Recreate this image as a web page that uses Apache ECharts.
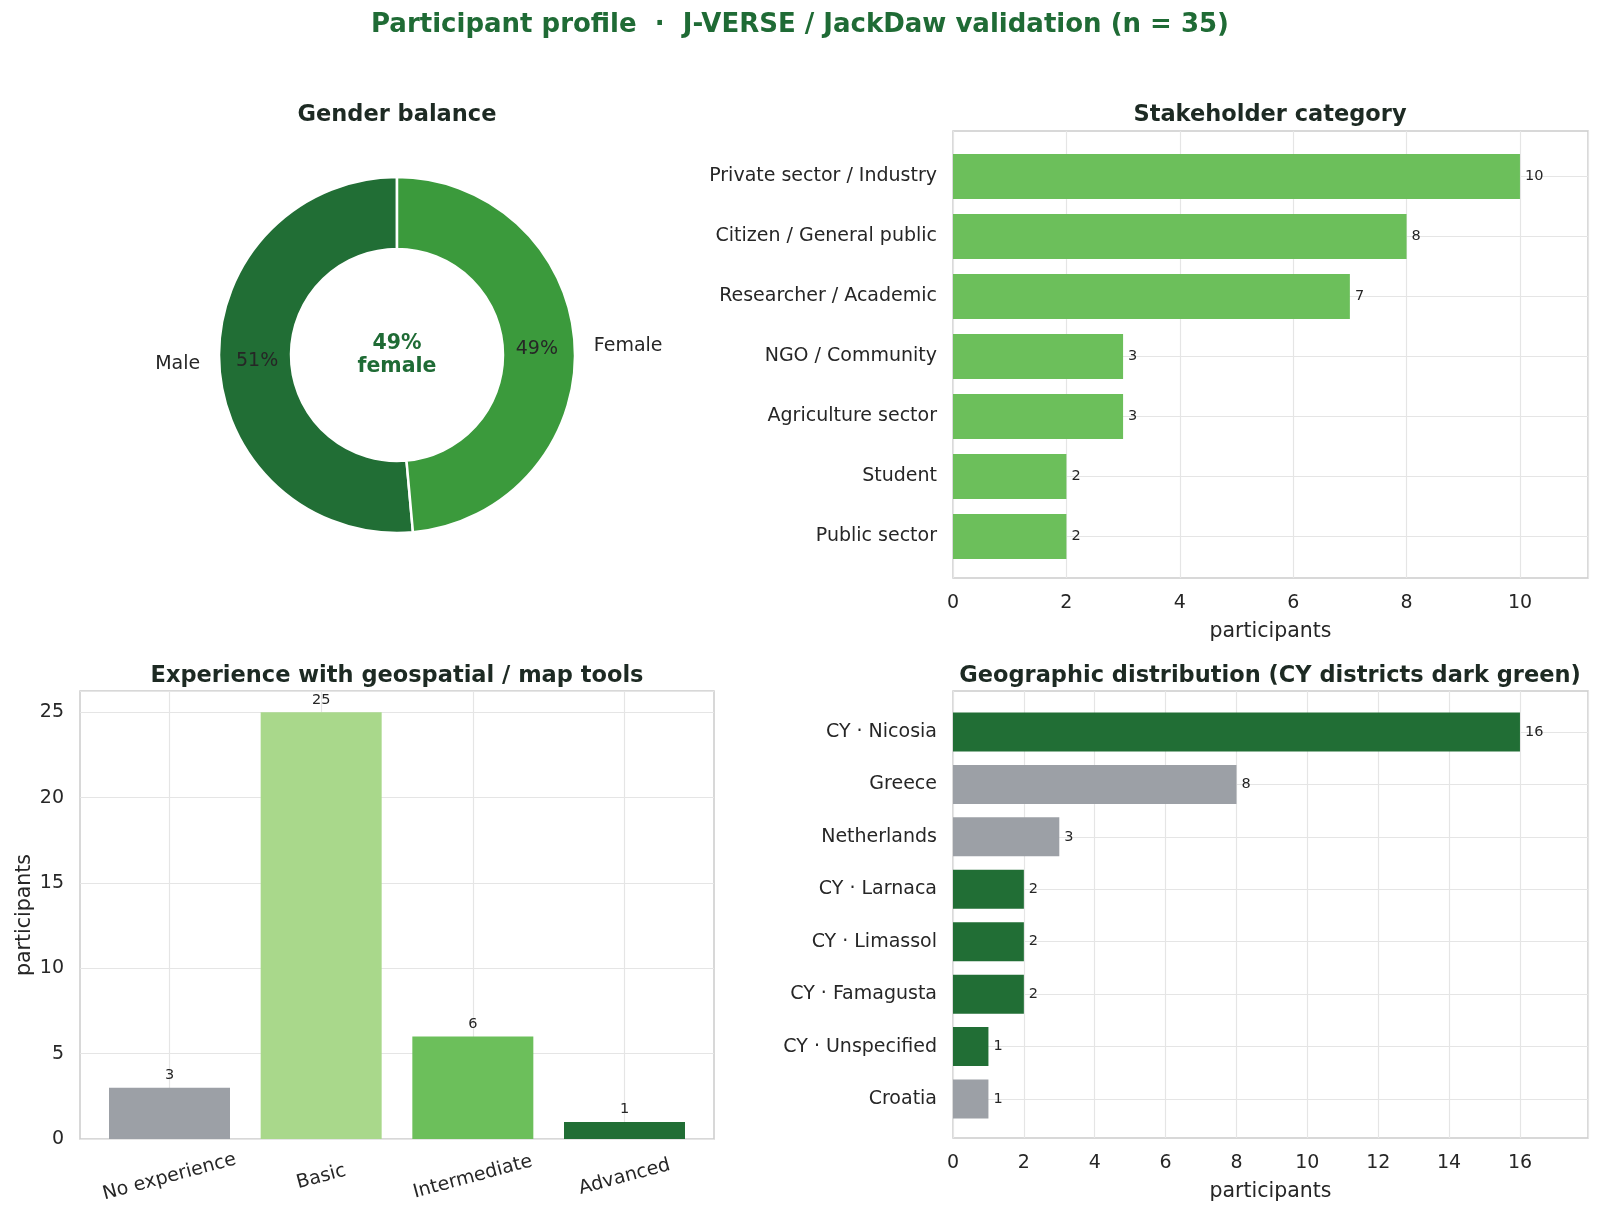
<!DOCTYPE html>
<html><head><meta charset="utf-8">
<script src="https://cdn.jsdelivr.net/npm/echarts@6/dist/echarts.min.js"></script>
<style>html,body{margin:0;padding:0;background:#fff}#c{width:1600px;height:1221px}</style>
</head><body><div id="c"></div>
<script>
// ---------------- data ----------------
const genderLabels = ['Male', 'Female'];
const genderCounts = [18, 17];

const stakeCategories = ['Private sector / Industry', 'Citizen / General public', 'Researcher / Academic',
  'NGO / Community', 'Agriculture sector', 'Student', 'Public sector'];
const stakeCounts = [10, 8, 7, 3, 3, 2, 2];

const expCategories = ['No experience', 'Basic', 'Intermediate', 'Advanced'];
const expCounts = [3, 25, 6, 1];

const geoCategories = ['CY · Nicosia', 'Greece', 'Netherlands', 'CY · Larnaca', 'CY · Limassol',
  'CY · Famagusta', 'CY · Unspecified', 'Croatia'];
const geoCounts = [16, 8, 3, 2, 2, 2, 1, 1];

const mainTitle = 'Participant profile  ·  J-VERSE / JackDaw validation (n = 35)';
const panelTitles = ['Gender balance', 'Stakeholder category', 'Experience with geospatial / map tools',
  'Geographic distribution (CY districts dark green)'];

// ---------------- styles ----------------
const FONT = 'DejaVu Sans';
const TXT = '#262626';
const TITLE_TXT = '#1d2a23';
const GREEN_TITLE = '#1f6b35';
const GRIDC = '#e5e5e5';
const FRAMEC = '#cccccc';
const DARK = '#216e35';
const FEMALE = '#3b9a3c';
const MID = '#6cbf5b';
const LIGHT = '#a9d88b';
const GRAY = '#9ca0a6';
const genderColors = [DARK, FEMALE];
const expColors = [GRAY, LIGHT, MID, DARK];

const total = genderCounts.reduce((a, b) => a + b, 0);
const femalePct = Math.round(genderCounts[1] / total * 100);

const stakeMax = Math.max(...stakeCounts) * 1.12;
const geoMax = Math.max(...geoCounts) * 1.12;
const expMax = Math.max(...expCounts) * 1.05;

function frameGrid(l, t, w, h) {
  return { left: l, top: t, width: w, height: h, show: true, borderColor: FRAMEC, borderWidth: 1.5,
    backgroundColor: 'transparent', containLabel: false, outerBoundsMode: 'none' };
}
function dataGrid(l, t, w, h) {
  return { left: l, top: t, width: w, height: h, show: false, containLabel: false, outerBoundsMode: 'none' };
}
const tickLabel = { color: TXT, fontFamily: FONT, fontSize: 19 };
const hiddenVal = (gi, min, max) => ({ type: 'value', gridIndex: gi, min: min, max: max, show: false });

function valueAxisVisible(gi, max, interval, extra) {
  return Object.assign({
    type: 'value', gridIndex: gi, min: 0, max: max, interval: interval,
    axisLine: { show: false }, axisTick: { show: false },
    axisLabel: Object.assign({}, tickLabel, { margin: 16, showMaxLabel: false }),
    splitLine: { show: true, lineStyle: { color: GRIDC, width: 1.2 } },
    name: 'participants', nameLocation: 'middle',
    nameTextStyle: { color: TXT, fontFamily: FONT, fontSize: 20.5 }
  }, extra);
}
function catAxis(gi, cats, extra) {
  return Object.assign({
    type: 'category', gridIndex: gi, data: cats, boundaryGap: false,
    axisLine: { show: false }, axisTick: { show: false },
    axisLabel: Object.assign({}, tickLabel, { margin: 16 }),
    splitLine: { show: true, lineStyle: { color: GRIDC, width: 1.2 } }
  }, extra);
}

const barLabel = (pos) => ({ show: true, position: pos, distance: 5, color: TXT, fontFamily: FONT, fontSize: 14.5 });
const panelTitleStyle = { color: TITLE_TXT, fontFamily: FONT, fontSize: 22.5, fontWeight: 'bold' };

const option = {
  backgroundColor: '#ffffff',
  animation: false,
  textStyle: { fontFamily: FONT },
  title: [
    { text: mainTitle, left: 800, textAlign: 'center', top: 12, padding: 0,
      textStyle: { color: GREEN_TITLE, fontFamily: FONT, fontSize: 26, fontWeight: 'bold' } },
    { text: panelTitles[0], left: 397, textAlign: 'center', top: 104, padding: 0, textStyle: panelTitleStyle },
    { text: panelTitles[1], left: 1270, textAlign: 'center', top: 104, padding: 0, textStyle: panelTitleStyle },
    { text: panelTitles[2], left: 397, textAlign: 'center', top: 664.5, padding: 0, textStyle: panelTitleStyle },
    { text: panelTitles[3], left: 1270, textAlign: 'center', top: 664.5, padding: 0, textStyle: panelTitleStyle }
  ],
  grid: [
    frameGrid(953, 131, 635, 447),   // 0 stakeholder frame
    dataGrid(953, 176.5, 635, 360),  // 1 stakeholder data
    frameGrid(80, 691, 634, 448),    // 2 experience frame
    dataGrid(169.5, 691, 455, 448),  // 3 experience data
    frameGrid(953, 691, 635, 447),   // 4 geo frame
    dataGrid(953, 732, 635, 367)     // 5 geo data
  ],
  xAxis: [
    valueAxisVisible(0, stakeMax, 2, { nameGap: 43 }),
    hiddenVal(1, 0, stakeMax),
    hiddenVal(2, 0, 1),
    catAxis(3, expCategories, {
      axisLabel: Object.assign({}, tickLabel, { margin: 38, rotate: 15, align: 'center', verticalAlign: 'middle' })
    }),
    valueAxisVisible(4, geoMax, 2, { nameGap: 43 }),
    hiddenVal(5, 0, geoMax)
  ],
  yAxis: [
    hiddenVal(0, 0, 1),
    catAxis(1, stakeCategories, { inverse: true }),
    valueAxisVisible(2, expMax, 5, { nameGap: 45, nameRotate: 90 }),
    hiddenVal(3, 0, expMax),
    hiddenVal(4, 0, 1),
    catAxis(5, geoCategories, { inverse: true })
  ],
  graphic: [{
    type: 'text', x: 397, y: 355, silent: true,
    style: { text: femalePct + '%\nfemale', align: 'center', verticalAlign: 'middle',
      fill: GREEN_TITLE, font: 'bold 20.5px "DejaVu Sans"', lineHeight: 23 }
  }],
  series: [
    {
      type: 'pie', center: [397, 355], radius: [106, 178], startAngle: 90, clockwise: false,
      silent: true,
      itemStyle: { borderColor: '#ffffff', borderWidth: 2.5 },
      label: { show: false },
      labelLine: { show: false },
      data: genderLabels.map((n, i) => ({ name: n, value: genderCounts[i], itemStyle: { color: genderColors[i] } }))
    },
    {
      type: 'pie', center: [397, 355], radius: [94, 180], startAngle: 90, clockwise: false,
      silent: true, z: 3,
      itemStyle: { color: 'rgba(0,0,0,0)', borderWidth: 0 },
      label: { show: true, position: 'inside', color: TXT, fontFamily: FONT, fontSize: 19,
        formatter: (p) => Math.round(p.percent) + '%' },
      labelLine: { show: false },
      data: genderLabels.map((n, i) => ({ name: n, value: genderCounts[i] }))
    },
    {
      type: 'pie', center: [397, 355], radius: [106, 178], startAngle: 90, clockwise: false,
      silent: true, z: 3,
      itemStyle: { color: 'rgba(0,0,0,0)', borderWidth: 0 },
      label: { show: true, position: 'outside', color: TXT, fontFamily: FONT, fontSize: 19,
        formatter: '{b}', distanceToLabelLine: 0, alignTo: 'none' },
      labelLine: { show: false, length: 19, length2: 0 },
      labelLayout: { hideOverlap: false },
      data: genderLabels.map((n, i) => ({ name: n, value: genderCounts[i] }))
    },
    {
      type: 'bar', xAxisIndex: 1, yAxisIndex: 1, barWidth: 45, clip: false,
      itemStyle: { color: MID }, label: barLabel('right'),
      data: stakeCounts
    },
    {
      type: 'bar', xAxisIndex: 3, yAxisIndex: 3, barWidth: 121, clip: false,
      label: barLabel('top'),
      data: expCounts.map((v, i) => ({ value: v, itemStyle: { color: expColors[i] } }))
    },
    {
      type: 'bar', xAxisIndex: 5, yAxisIndex: 5, barWidth: 39, clip: false,
      label: barLabel('right'),
      data: geoCounts.map((v, i) => ({ value: v,
        itemStyle: { color: geoCategories[i].indexOf('CY') === 0 ? DARK : GRAY } }))
    }
  ]
};
echarts.init(document.getElementById('c'), null, { renderer: 'canvas' }).setOption(option);
</script>
</body></html>
